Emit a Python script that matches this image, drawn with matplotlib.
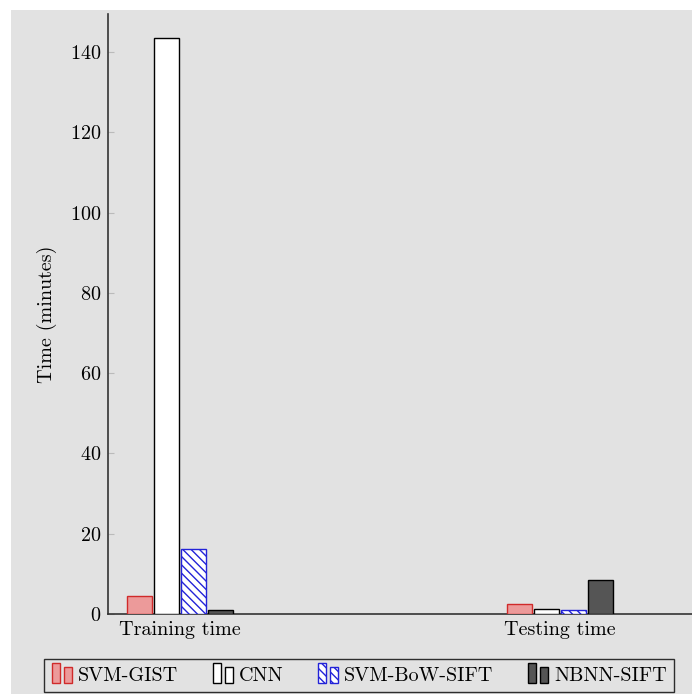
import numpy as np
import matplotlib
matplotlib.use("Agg")
import matplotlib.pyplot as plt
from matplotlib.patches import Rectangle
from matplotlib.legend_handler import HandlerBase

plt.rcParams['font.family'] = ['cmr10', 'DejaVu Serif']
plt.rcParams['axes.formatter.use_mathtext'] = True

groups = ['Training time', 'Testing time']
methods = ['SVM-GIST', 'CNN', 'SVM-BoW-SIFT', 'NBNN-SIFT']
svm_gist = [4.5, 2.4]
cnn = [143.5, 1.2]
svm_bow_sift = [16.2, 0.9]
nbnn_sift = [1.0, 8.5]
yticks = [0, 20, 40, 60, 80, 100, 120, 140]

bg = '#e2e2e2'
faces = ['#ec9a9a', 'white', 'white', '#555555']
edges = ['#d02a2a', 'black', '#2323d8', 'black']
hatches = [None, None, '\\\\\\\\', None]


class TwoBars(HandlerBase):
    # pgfplots style legend image: two small bars
    def create_artists(self, legend, orig, xd, yd, width, height, fontsize, trans):
        fc = orig.get_facecolor()
        ec = orig.get_edgecolor()
        h = orig.get_hatch()
        bw = width * 0.33
        out = []
        for x0, hh in [(0.05 * width, height * 1.3), (width * 0.55, height * 1.0)]:
            r = Rectangle((xd + x0, yd - height * 0.15), bw, hh, facecolor=fc,
                          edgecolor=ec, hatch=h, linewidth=1.0, transform=trans)
            out.append(r)
        return out


fig = plt.figure(figsize=(6.92, 6.94), dpi=100)
fig.patches.append(Rectangle((11 / 692, 0), 1, 1 - 10 / 694, transform=fig.transFigure,
                             facecolor=bg, edgecolor='none', zorder=-10))
ax = fig.add_axes([108 / 692, (694 - 614) / 694, (692 - 108) / 692, (614 - 14) / 694])
ax.set_facecolor(bg)

x = np.arange(len(groups))
w = 0.066
step = 0.071
series = [svm_gist, cnn, svm_bow_sift, nbnn_sift]
plt.rcParams['hatch.linewidth'] = 1.0
handles = []
for i, vals in enumerate(series):
    off = (i - 1.5) * step
    b = ax.bar(x + off, vals, width=w, facecolor=faces[i], edgecolor=edges[i],
               hatch=hatches[i], linewidth=1.0, label=methods[i], zorder=3)
    handles.append(b.patches[0])

ax.set_xlim(-0.189, 1.347)
ax.set_ylim(0, 149.5)
ax.set_yticks(yticks)
ax.set_xticks(x)
ax.set_xticklabels(groups, fontsize=14.5)
ax.tick_params(axis='y', labelsize=14.5, direction='in', length=4, color='#bbbbbb', pad=5)
ax.tick_params(axis='x', length=0, pad=5)
for s in ['top', 'right']:
    ax.spines[s].set_visible(False)
ax.spines['left'].set_linewidth(1.2)
ax.spines['bottom'].set_linewidth(1.2)
ax.spines['left'].set_color('#333333')
ax.spines['bottom'].set_color('#333333')
ax.set_ylabel('Time (minutes)', fontsize=14.5, labelpad=9)

leg = fig.legend(handles=handles, labels=methods, loc='lower left',
                 bbox_to_anchor=(44 / 692, 2 / 694, (674 - 44) / 692, 34 / 694),
                 ncol=4, mode='expand', fontsize=14.5, frameon=True, fancybox=False,
                 facecolor=bg, edgecolor='black', handlelength=1.2, handleheight=0.8,
                 handletextpad=0.15, columnspacing=1.0, borderpad=0.35, borderaxespad=0,
                 handler_map={Rectangle: TwoBars()})
leg.get_frame().set_linewidth(1.0)

plt.savefig('out.png', dpi=100, facecolor='white')
